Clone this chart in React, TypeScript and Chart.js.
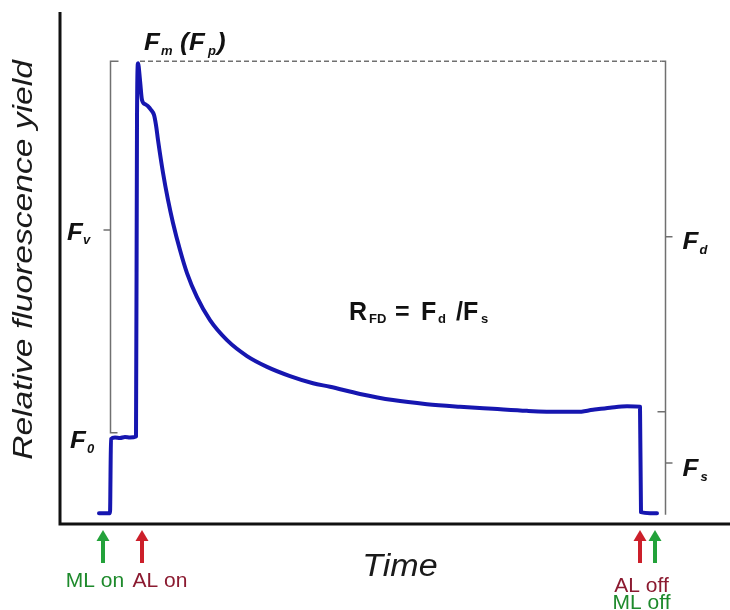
import React, { useEffect, useRef } from "react";
import { Chart, registerables } from "chart.js";
Chart.register(...registerables);

// Fluorescence trace (time in arbitrary units, yield in % of axis)
const timeValues = [39, 50, 51, 55, 60, 65, 70, 76, 77, 78, 80, 82, 85, 88, 91, 94, 96, 98, 103, 108, 113, 120, 127, 137, 150, 167, 187, 207, 230, 253, 270, 300, 333, 367, 400, 433, 467, 500, 517, 533, 550, 567, 580, 581, 590, 597];
const yieldValues = [2.1, 2.1, 16.6, 16.9, 16.8, 17.0, 16.9, 17.1, 78.9, 90.0, 86.7, 82.8, 82.0, 81.6, 80.9, 79.9, 77.9, 75.0, 68.6, 63.3, 58.8, 53.5, 49.0, 44.3, 39.8, 35.9, 32.8, 30.7, 28.9, 27.5, 26.8, 25.4, 24.2, 23.4, 22.9, 22.5, 22.1, 21.9, 21.9, 22.3, 22.7, 23.0, 22.9, 2.3, 2.1, 2.1];

// Reference levels
const fmLevel = 90.4;
const f0Level = 17.8;
const fsLevel = 21.9;
const baseLevel = 1.8;
const fvTick = 57.4;
const fdTick = 56.1;
const fsTick = 11.9;
const leftBracketT = 50;
const rightBracketT = 605;
const dashStartT = 80;

// Event arrows
const arrowTimes = [43, 82, 580, 595];
const arrowColors = ["#23a23a", "#cc1f2a", "#cc1f2a", "#23a23a"];

const xTitle = "Time";
const yTitle = "Relative fluorescence yield";

const FF = "'Liberation Sans', Arial, sans-serif";

function txt(ctx: CanvasRenderingContext2D, s: string, x: number, y: number, font: string, color: string, align: CanvasTextAlign = "left", sx = 1, rot = 0) {
  ctx.save();
  ctx.translate(x, y);
  if (rot) ctx.rotate(rot);
  ctx.scale(sx, 1);
  ctx.font = font;
  ctx.fillStyle = color;
  ctx.textAlign = align;
  ctx.textBaseline = "alphabetic";
  ctx.fillText(s, 0, 0);
  ctx.restore();
}

const annot = {
  id: "annot",
  afterDatasetsDraw(chart: any) {
    const { ctx, chartArea: ca, scales } = chart;
    const X = (t: number) => scales.x.getPixelForValue(t);
    const Y = (v: number) => scales.y.getPixelForValue(v);
    ctx.save();
    // axes
    ctx.strokeStyle = "#111";
    ctx.lineWidth = 3;
    ctx.beginPath();
    ctx.moveTo(ca.left, ca.top);
    ctx.lineTo(ca.left, ca.bottom);
    ctx.lineTo(ca.right, ca.bottom);
    ctx.stroke();

    // brackets
    ctx.strokeStyle = "#707070";
    ctx.lineWidth = 1.5;
    const lx = Math.round(X(leftBracketT)) + 0.5;
    ctx.beginPath();
    ctx.moveTo(lx + 8, Y(fmLevel));
    ctx.lineTo(lx, Y(fmLevel));
    ctx.lineTo(lx, Y(f0Level));
    ctx.lineTo(lx + 7, Y(f0Level));
    ctx.moveTo(lx - 7, Y(fvTick));
    ctx.lineTo(lx, Y(fvTick));
    const rx = Math.round(X(rightBracketT)) + 0.5;
    ctx.moveTo(rx - 4, Y(fmLevel));
    ctx.lineTo(rx, Y(fmLevel));
    ctx.lineTo(rx, Y(baseLevel));
    ctx.moveTo(rx, Y(fdTick));
    ctx.lineTo(rx + 7, Y(fdTick));
    ctx.moveTo(rx - 8, Y(fsLevel));
    ctx.lineTo(rx, Y(fsLevel));
    ctx.moveTo(rx, Y(fsTick));
    ctx.lineTo(rx + 7, Y(fsTick));
    ctx.stroke();
    // dashed Fm line
    ctx.setLineDash([5, 3]);
    ctx.beginPath();
    ctx.moveTo(X(dashStartT), Y(fmLevel));
    ctx.lineTo(rx - 4, Y(fmLevel));
    ctx.stroke();
    ctx.setLineDash([]);

    // arrows
    arrowTimes.forEach((t, i) => {
      const ax = X(t);
      ctx.strokeStyle = arrowColors[i];
      ctx.fillStyle = arrowColors[i];
      ctx.lineWidth = 4;
      ctx.beginPath();
      ctx.moveTo(ax, ca.bottom + 39);
      ctx.lineTo(ax, ca.bottom + 15);
      ctx.stroke();
      ctx.beginPath();
      ctx.moveTo(ax, ca.bottom + 6);
      ctx.lineTo(ax - 6.5, ca.bottom + 17);
      ctx.lineTo(ax + 6.5, ca.bottom + 17);
      ctx.closePath();
      ctx.fill();
    });

    const lblFont = `21px ${FF}`;
    const green = "#1e8a2c";
    const maroon = "#8b1a30";
    txt(ctx, "ML on", X(arrowTimes[0]) - 8, ca.bottom + 63, lblFont, green, "center");
    txt(ctx, "AL on", X(arrowTimes[1]) + 18, ca.bottom + 63, lblFont, maroon, "center");
    const offX = (X(arrowTimes[2]) + X(arrowTimes[3])) / 2 - 6;
    txt(ctx, "AL off", offX, ca.bottom + 68, lblFont, maroon, "center");
    txt(ctx, "ML off", offX, ca.bottom + 85, lblFont, green, "center");

    // axis titles
    txt(ctx, xTitle, (ca.left + ca.right) / 2 + 5, ca.bottom + 52, `italic 31px ${FF}`, "#1a1a1a", "center", 1.1);
    txt(ctx, yTitle, 32, (ca.top + ca.bottom) / 2 - 8, `italic 28px ${FF}`, "#1a1a1a", "center", 1.2, -Math.PI / 2);

    // F labels
    const big = `bold italic 24px ${FF}`;
    const sub = `bold italic 13px ${FF}`;
    const ink = "#111";
    const sx = 1.08;
    const fmY = Y(fmLevel) - 11;
    txt(ctx, "F", 144, fmY, big, ink, "left", sx);
    txt(ctx, "m", 161, fmY + 5, sub, ink);
    txt(ctx, "(", 180, fmY, big, ink, "left", sx);
    txt(ctx, "F", 189, fmY, big, ink, "left", sx);
    txt(ctx, "p", 208, fmY + 5, sub, ink);
    txt(ctx, ")", 217, fmY, big, ink, "left", sx);

    txt(ctx, "F", 67, Y(fvTick) + 10, big, ink, "left", sx);
    txt(ctx, "v", 83, Y(fvTick) + 14, sub, ink);
    txt(ctx, "F", 70, Y(f0Level) + 15, big, ink, "left", sx);
    txt(ctx, "0", 87, Y(f0Level) + 20, sub, ink);
    txt(ctx, "F", rx + 17, Y(fdTick) + 12, big, ink, "left", sx);
    txt(ctx, "d", rx + 34, Y(fdTick) + 17, sub, ink);
    txt(ctx, "F", rx + 17, Y(fsTick) + 13, big, ink, "left", sx);
    txt(ctx, "s", rx + 35, Y(fsTick) + 18, sub, ink);

    // R_FD = F_d / F_s
    const rb = `bold 25px ${FF}`;
    const rs = `bold 13px ${FF}`;
    txt(ctx, "R", 349, 320, rb, ink);
    txt(ctx, "FD", 369, 323, rs, ink);
    txt(ctx, "=", 395, 320, rb, ink);
    txt(ctx, "F", 421, 320, rb, ink);
    txt(ctx, "d", 438, 323, rs, ink);
    txt(ctx, "/", 456, 320, rb, ink);
    txt(ctx, "F", 463, 320, rb, ink);
    txt(ctx, "s", 481, 323, rs, ink);

    ctx.restore();
  },
};

export default function App() {
  const ref = useRef<HTMLCanvasElement>(null);
  useEffect(() => {
    const chart = new Chart(ref.current as HTMLCanvasElement, {
      type: "line",
      data: {
        datasets: [
          {
            data: timeValues.map((t, i) => ({ x: t, y: yieldValues[i] })),
            borderColor: "#1616b0",
            borderWidth: 4,
            pointRadius: 0,
            cubicInterpolationMode: "monotone",
            borderCapStyle: "round",
            borderJoinStyle: "round",
            fill: false,
          },
        ],
      },
      options: {
        responsive: false,
        animation: false,
        layout: { padding: { left: 60, top: 12, right: 0, bottom: 86 } },
        scales: {
          x: { type: "linear", min: 0, max: 670, display: false },
          y: { type: "linear", min: 0, max: 100, display: false },
        },
        plugins: { legend: { display: false }, tooltip: { enabled: false } },
      },
      plugins: [annot],
    } as any);
    return () => chart.destroy();
  }, []);
  return (
    <div style={{ position: "fixed", left: 0, top: 0, width: 730, height: 610, background: "#fff" }}>
      <canvas ref={ref} width={730} height={610} style={{ display: "block" }} />
    </div>
  );
}
